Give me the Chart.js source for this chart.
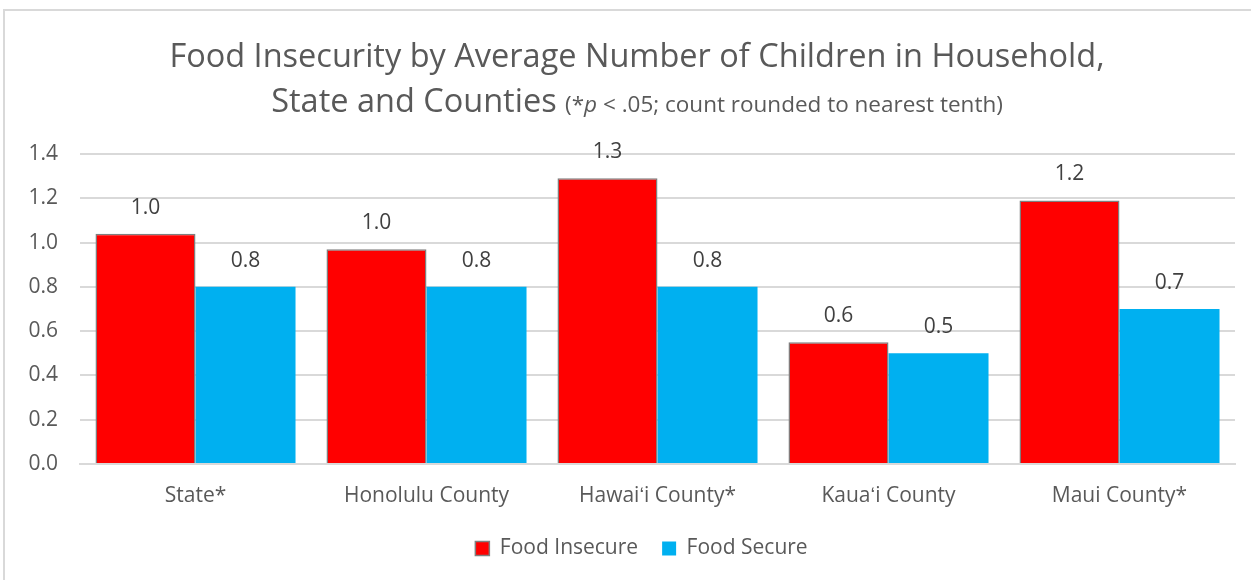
<!DOCTYPE html>
<html>
<head>
<meta charset="utf-8">
<script src="https://cdn.jsdelivr.net/npm/chart.js@4/dist/chart.umd.min.js"></script>
<style>
  html, body { margin: 0; padding: 0; background: #fff; }
  #frame { position: absolute; left: 3px; top: 9px; width: 1260px; height: 600px;
           border: 2px solid #d9d9d9; box-sizing: border-box; }
  #wrap { position: absolute; left: 0; top: 0; width: 1251px; height: 580px; }
</style>
</head>
<body>
<div id="frame"></div>
<div id="wrap"><canvas id="c" width="1251" height="580"></canvas></div>
<script>
// Average number of children per household, by food security status
const categories = ['State*', 'Honolulu County', 'Hawai\u02BBi County*', 'Kaua\u02BBi County', 'Maui County*'];
const foodInsecure = [1.04, 0.97, 1.29, 0.55, 1.19];
const foodSecure = [0.80, 0.80, 0.80, 0.50, 0.70];
const yTicks = [0, 0.2, 0.4, 0.6, 0.8, 1.0, 1.2, 1.4];

const FONT = '"Open Sans", "Liberation Sans", sans-serif';
const TEXT = '#595959';

// Two-line heading with a smaller, partly italic note on the second line
const titlePlugin = {
  id: 'heading',
  afterDraw(chart) {
    const ctx = chart.ctx;
    const cx = 637;
    ctx.save();
    ctx.fillStyle = TEXT;
    ctx.textBaseline = 'alphabetic';
    ctx.textAlign = 'center';
    ctx.font = '32.5px ' + FONT;
    ctx.fillText('Food Insecurity by Average Number of Children in Household,', cx, 67);

    const parts = [
      { t: 'State and Counties ', f: '32.5px ' + FONT },
      { t: '(*', f: '22.5px ' + FONT },
      { t: 'p', f: 'italic 22.5px ' + FONT },
      { t: ' < .05; count rounded to nearest tenth)', f: '22.5px ' + FONT }
    ];
    let total = 0;
    parts.forEach(p => { ctx.font = p.f; p.w = ctx.measureText(p.t).width; total += p.w; });
    let x = cx - total / 2;
    ctx.textAlign = 'left';
    parts.forEach(p => { ctx.font = p.f; ctx.fillText(p.t, x, 112); x += p.w; });
    ctx.restore();
  }
};

// Value labels above each bar, rounded to the nearest tenth
const valueLabels = {
  id: 'valueLabels',
  afterDatasetsDraw(chart) {
    const ctx = chart.ctx;
    ctx.save();
    ctx.font = '21px ' + FONT;
    ctx.fillStyle = '#404040';
    ctx.textAlign = 'center';
    ctx.textBaseline = 'middle';
    chart.data.datasets.forEach((ds, i) => {
      chart.getDatasetMeta(i).data.forEach((bar, j) => {
        ctx.fillText(ds.data[j].toFixed(1), bar.x, bar.y - 26);
      });
    });
    ctx.restore();
  }
};

// Centre the legend under the plot area rather than the whole canvas
const legendShift = {
  id: 'legendShift',
  afterLayout(chart) {
    if (chart.legend) chart.legend.left += chart.chartArea.left - 32;
  }
};

new Chart(document.getElementById('c'), {
  type: 'bar',
  data: {
    labels: categories,
    datasets: [
      { label: 'Food Insecure', data: foodInsecure, backgroundColor: '#ff0000',
        borderColor: '#7f7f7f', borderWidth: 1.5, borderSkipped: 'bottom' },
      { label: 'Food Secure', data: foodSecure, backgroundColor: '#00b0f0',
        borderWidth: 0 }
    ]
  },
  options: {
    responsive: false,
    animation: false,
    devicePixelRatio: 1,
    layout: { padding: { top: 154, right: 16, left: 0, bottom: 11 } },
    datasets: { bar: { categoryPercentage: 0.866, barPercentage: 1.0 } },
    scales: {
      x: {
        afterFit(scale) { scale.height = 50; },
        grid: { display: false, drawTicks: false },
        border: { color: '#d9d9d9', width: 2 },
        ticks: { color: TEXT, font: { family: FONT, size: 21 }, padding: 19 }
      },
      y: {
        min: 0, max: 1.4,
        afterBuildTicks(scale) { scale.ticks = yTicks.map(v => ({ value: v })); },
        afterFit(scale) { scale.width = 80; },
        grid: { color: '#d9d9d9', lineWidth: 2, drawTicks: false },
        border: { display: false },
        ticks: { color: TEXT, font: { family: FONT, size: 21 }, padding: 22,
                 callback: v => v.toFixed(1) }
      }
    },
    plugins: {
      legend: {
        position: 'bottom',
        labels: {
          color: TEXT, font: { family: FONT, size: 21 },
          boxWidth: 14, boxHeight: 14, padding: 24
        }
      },
      tooltip: { enabled: false }
    }
  },
  plugins: [titlePlugin, valueLabels, legendShift]
});
</script>
</body>
</html>
